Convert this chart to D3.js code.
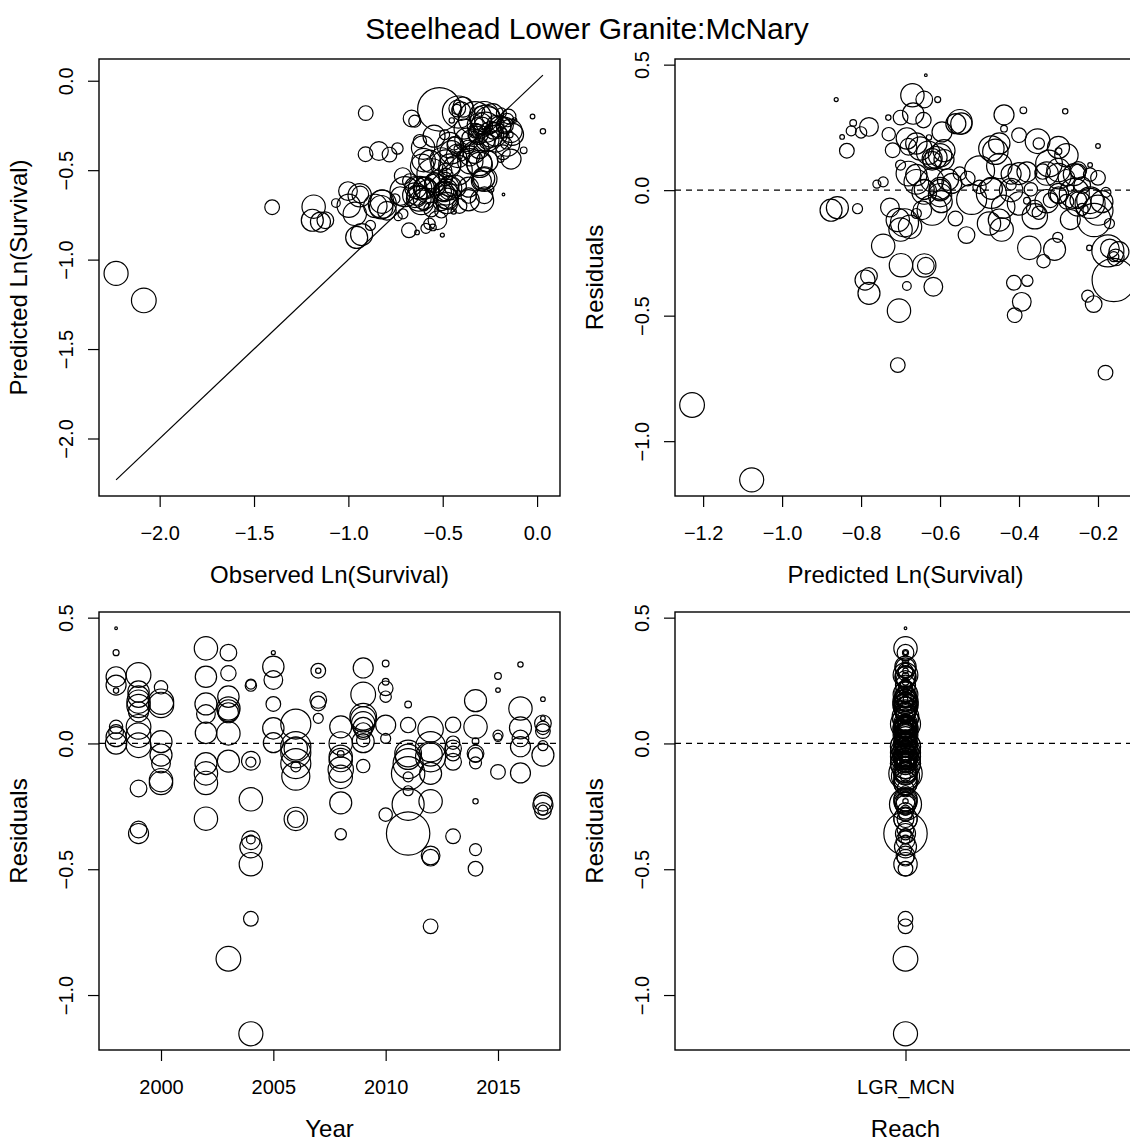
<!DOCTYPE html>
<html>
<head>
<meta charset="utf-8">
<script src="https://cdn.jsdelivr.net/npm/d3@7"></script>
<style>
  body { margin: 0; background: #fff; }
  text { font-family: "Liberation Sans", Arial, Helvetica, sans-serif; fill: #000; }
</style>
</head>
<body>
<svg id="chart" width="1130" height="1143"></svg>
<script>
// One record per release group: migration year, model prediction of ln(survival),
// residual (observed - predicted) and bubble size (relative release size).
const years = [
  1998,1998,1998,1998,1998,1998,1998,1998,1998,
  1999,1999,1999,1999,1999,1999,1999,1999,1999,1999,1999,1999,
  2000,2000,2000,2000,2000,2000,2000,2000,
  2002,2002,2002,2002,2002,2002,2002,2002,2002,
  2003,2003,2003,2003,2003,2003,2003,2003,2003,
  2004,2004,2004,2004,2004,2004,2004,2004,2004,2004,2004,
  2005,2005,2005,2005,2005,2005,
  2006,2006,2006,2006,2006,2006,2006,2006,2006,
  2007,2007,2007,2007,2007,
  2008,2008,2008,2008,2008,2008,2008,2008,2008,
  2009,2009,2009,2009,2009,2009,2009,2009,2009,2009,
  2010,2010,2010,2010,2010,2010,2010,
  2011,2011,2011,2011,2011,2011,2011,2011,2011,2011,
  2012,2012,2012,2012,2012,2012,2012,2012,2012,
  2013,2013,2013,2013,2013,2013,
  2014,2014,2014,2014,2014,2014,2014,2014,2014,
  2015,2015,2015,2015,2015,
  2016,2016,2016,2016,2016,2016,
  2017,2017,2017,2017,2017,2017,2017,2017,2017,2017,2017
];
const predicted = [
  -0.636,-0.606,-0.560,-0.595,-0.628,-0.550,-0.530,-0.570,-0.600,
  -0.550,-0.684,-0.660,-0.650,-0.630,-0.620,-0.680,-0.660,-0.640,-0.533,-0.780,-0.790,
  -0.730,-0.470,-0.460,-0.600,-0.597,-0.645,-0.676,-0.444,
  -0.670,-0.546,-0.590,-0.620,-0.580,-0.876,-0.707,-0.700,-0.699,
  -0.640,-0.642,-0.450,-0.600,-0.610,-0.590,-0.620,-0.860,-1.228,
  -0.825,-0.800,-0.727,-0.809,-0.744,-0.684,-0.617,-0.780,-0.704,-0.707,-1.077,
  -0.863,-0.668,-0.780,-0.836,-0.660,-0.640,
  -0.500,-0.470,-0.600,-0.520,-0.620,-0.660,-0.690,-0.640,-0.636,
  -0.700,-0.731,-0.680,-0.720,-0.700,
  -0.400,-0.420,-0.380,-0.400,-0.440,-0.360,-0.476,-0.310,-0.379,
  -0.438,-0.353,-0.324,-0.450,-0.300,-0.420,-0.280,-0.500,-0.470,-0.350,
  -0.389,-0.438,-0.400,-0.350,-0.380,-0.420,-0.338,
  -0.300,-0.250,-0.220,-0.250,-0.200,-0.210,-0.171,-0.302,-0.175,-0.160,
  -0.300,-0.260,-0.330,-0.220,-0.450,-0.374,-0.393,-0.211,-0.181,
  -0.340,-0.370,-0.300,-0.320,-0.360,-0.413,
  -0.300,-0.330,-0.270,-0.250,-0.280,-0.240,-0.222,-0.226,-0.411,
  -0.820,-0.848,-0.744,-0.760,-0.561,
  -0.283,-0.280,-0.260,-0.240,-0.300,-0.270,
  -0.200,-0.220,-0.250,-0.220,-0.200,-0.180,-0.190,-0.170,-0.147,-0.160,-0.155
];
const residual = [
  0.458,0.361,0.265,0.232,0.210,0.066,0.046,0.027,0.000,
  0.272,0.206,0.186,0.166,0.149,0.126,0.066,0.033,-0.007,-0.179,-0.342,-0.358,
  0.223,0.166,0.153,0.007,-0.046,-0.080,-0.146,-0.157,
  0.378,0.265,0.157,0.117,0.042,-0.080,-0.119,-0.157,-0.299,
  0.361,0.279,0.186,0.139,0.130,0.122,0.040,-0.070,-0.856,
  0.236,0.230,-0.069,-0.074,-0.222,-0.382,-0.385,-0.411,-0.480,-0.697,-1.154,
  0.361,0.305,0.252,0.157,0.060,0.003,
  0.077,-0.013,-0.020,-0.037,-0.080,-0.093,-0.130,-0.300,-0.301,
  0.289,0.289,0.173,0.159,0.100,
  0.066,0.000,-0.042,-0.053,-0.066,-0.104,-0.133,-0.236,-0.361,
  0.300,0.195,0.106,0.096,0.080,0.064,0.049,0.013,0.007,-0.090,
  0.318,0.245,0.219,0.186,0.073,0.020,-0.283,
  0.155,0.073,-0.040,-0.053,-0.080,-0.119,-0.133,-0.188,-0.242,-0.358,
  0.056,-0.013,-0.044,-0.053,-0.119,-0.230,-0.445,-0.454,-0.727,
  0.074,0.003,-0.020,-0.040,-0.073,-0.369,
  0.170,0.066,0.009,-0.040,-0.046,-0.077,-0.230,-0.422,-0.498,
  0.268,0.212,0.033,0.024,-0.113,
  0.314,0.139,0.062,0.020,-0.013,-0.117,
  0.176,0.100,0.080,0.062,0.049,-0.009,-0.046,-0.232,-0.245,-0.265,-0.268
];
const bubbleSize = [
  4,9,30,30,8,20,22,30,32,
  37,32,32,35,35,30,37,37,37,25,25,30,
  20,38,38,33,33,28,35,35,
  35,32,33,28,32,33,35,35,35,
  25,23,32,35,33,30,35,33,37,
  15,17,28,15,35,13,28,33,35,22,36,
  6,32,28,22,32,30,
  45,45,35,45,45,15,42,35,25,
  22,8,25,22,15,
  33,35,10,35,35,38,35,33,17,
  30,37,40,38,35,30,25,20,33,20,
  10,10,22,17,30,15,20,
  10,23,40,38,45,50,15,15,48,65,
  38,45,35,45,33,35,28,25,22,
  23,20,25,22,25,22,
  33,35,10,25,22,18,8,18,22,
  10,7,15,12,22,
  8,35,33,25,30,30,
  7,7,25,20,22,15,33,28,30,15,25
];
const reachName = "LGR_MCN";

const obsTicks = [-2.0, -1.5, -1.0, -0.5, 0.0];
const predTicks = [-1.2, -1.0, -0.8, -0.6, -0.4, -0.2];
const residTicks = [-1.0, -0.5, 0.0, 0.5];
const yearTicks = [2000, 2005, 2010, 2015];

const points = years.map((yr, i) => ({
  year: yr,
  pred: predicted[i],
  resid: residual[i],
  obs: predicted[i] + residual[i],
  size: bubbleSize[i],
  reach: reachName
}));

// R-style axis limits: data range stretched by 4% on each side
const pad = ([a, b]) => [a - 0.04 * (b - a), b + 0.04 * (b - a)];

const svg = d3.select("#chart");
const fmt1 = d3.format(".1f");
const rScale = d3.scaleLinear().domain([0, 65]).range([0, 21.7]);

const boxW = 461;
const panels = {
  tl: { left: 99, top: 59, w: boxW, h: 437 },
  tr: { left: 675, top: 59, w: boxW, h: 437 },
  bl: { left: 99, top: 612, w: boxW, h: 438 },
  br: { left: 675, top: 612, w: boxW, h: 438 }
};

// overall title, centred on the full two-column figure
svg.append("text")
  .attr("x", 587).attr("y", 39)
  .attr("text-anchor", "middle")
  .style("font-size", "30px")
  .text("Steelhead Lower Granite:McNary");

function drawPanel(id, p, opts) {
  const g = svg.append("g").attr("transform", `translate(${p.left},${p.top})`);
  const x = opts.x.range([0, p.w]);
  const y = opts.y.range([p.h, 0]);

  // bottom axis
  const xa = g.append("g").attr("transform", `translate(0,${p.h})`)
    .call(opts.xAxis(x));
  xa.select(".domain").remove();
  xa.selectAll(".tick line").attr("stroke", "#000").attr("stroke-width", 1.2);
  xa.selectAll(".tick text")
    .attr("y", 44).attr("dy", 0)
    .attr("fill", "#000")
    .style("font-size", "20px")
    .style("font-family", '"Liberation Sans", Arial, sans-serif');

  // left axis with labels parallel to the axis
  const ya = g.append("g")
    .call(d3.axisLeft(y).tickValues(opts.yTicks).tickFormat(fmt1).tickSize(11));
  ya.select(".domain").remove();
  ya.selectAll(".tick line").attr("stroke", "#000").attr("stroke-width", 1.2);
  ya.selectAll(".tick text")
    .attr("transform", "rotate(-90)")
    .attr("x", 0).attr("y", -26).attr("dy", 0)
    .attr("text-anchor", "middle")
    .attr("fill", "#000")
    .style("font-size", "20px")
    .style("font-family", '"Liberation Sans", Arial, sans-serif');

  // axis titles
  g.append("text")
    .attr("x", p.w / 2).attr("y", p.h + 87)
    .attr("text-anchor", "middle")
    .style("font-size", "24px")
    .text(opts.xTitle);
  g.append("text")
    .attr("transform", "rotate(-90)")
    .attr("x", -p.h / 2).attr("y", -72)
    .attr("text-anchor", "middle")
    .style("font-size", "24px")
    .text(opts.yTitle);

  // plotting region
  svg.append("clipPath").attr("id", "clip-" + id)
    .append("rect").attr("width", p.w).attr("height", p.h);
  const plot = g.append("g").attr("clip-path", `url(#clip-${id})`);

  if (opts.extra) opts.extra(plot, x, y, p);

  plot.selectAll("circle.pt")
    .data(points)
    .join("circle")
    .attr("class", "pt")
    .attr("cx", d => x(opts.xv(d)))
    .attr("cy", d => y(opts.yv(d)))
    .attr("r", d => rScale(d.size))
    .attr("fill", "none")
    .attr("stroke", "#000")
    .attr("stroke-width", 1.2);

  g.append("rect")
    .attr("width", p.w).attr("height", p.h)
    .attr("fill", "none").attr("stroke", "#000").attr("stroke-width", 1.4);
}

const zeroLine = (plot, x, y, p) => {
  plot.append("line")
    .attr("x1", 0).attr("x2", p.w)
    .attr("y1", y(0)).attr("y2", y(0))
    .attr("stroke", "#000").attr("stroke-width", 1.2)
    .attr("stroke-dasharray", "6,5");
};

const obsExtent = d3.extent(points, d => d.obs);
const predExtent = d3.extent(points, d => d.pred);
const residExtent = d3.extent(points, d => d.resid);
const yearExtent = d3.extent(points, d => d.year);

// Observed vs predicted, with the 1:1 line
drawPanel("tl", panels.tl, {
  x: d3.scaleLinear().domain(pad(obsExtent)),
  y: d3.scaleLinear().domain(pad(obsExtent)),
  xAxis: s => d3.axisBottom(s).tickValues(obsTicks).tickFormat(fmt1).tickSize(11),
  yTicks: obsTicks,
  xv: d => d.obs, yv: d => d.pred,
  xTitle: "Observed Ln(Survival)", yTitle: "Predicted Ln(Survival)",
  extra: (plot, x, y) => {
    plot.append("line")
      .attr("x1", x(obsExtent[0])).attr("y1", y(obsExtent[0]))
      .attr("x2", x(obsExtent[1])).attr("y2", y(obsExtent[1]))
      .attr("stroke", "#000").attr("stroke-width", 1.2);
  }
});

// Residuals vs predicted
drawPanel("tr", panels.tr, {
  x: d3.scaleLinear().domain(pad(predExtent)),
  y: d3.scaleLinear().domain(pad(residExtent)),
  xAxis: s => d3.axisBottom(s).tickValues(predTicks).tickFormat(fmt1).tickSize(11),
  yTicks: residTicks,
  xv: d => d.pred, yv: d => d.resid,
  xTitle: "Predicted Ln(Survival)", yTitle: "Residuals",
  extra: zeroLine
});

// Residuals by year
drawPanel("bl", panels.bl, {
  x: d3.scaleLinear().domain(pad(yearExtent)),
  y: d3.scaleLinear().domain(pad(residExtent)),
  xAxis: s => d3.axisBottom(s).tickValues(yearTicks).tickFormat(d3.format("d")).tickSize(11),
  yTicks: residTicks,
  xv: d => d.year, yv: d => d.resid,
  xTitle: "Year", yTitle: "Residuals",
  extra: zeroLine
});

// Residuals by reach
drawPanel("br", panels.br, {
  x: d3.scalePoint().domain([reachName]).padding(0.5),
  y: d3.scaleLinear().domain(pad(residExtent)),
  xAxis: s => d3.axisBottom(s).tickSize(11),
  yTicks: residTicks,
  xv: d => d.reach, yv: d => d.resid,
  xTitle: "Reach", yTitle: "Residuals",
  extra: zeroLine
});
</script>
</body>
</html>
